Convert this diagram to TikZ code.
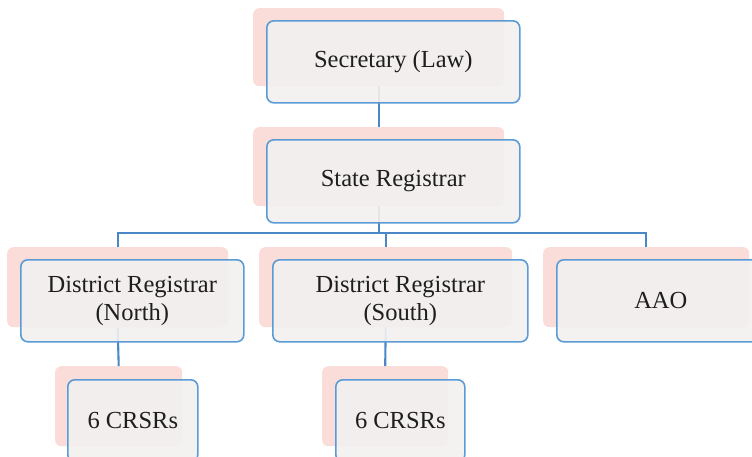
\documentclass[tikz,border=0pt]{standalone}
\usepackage{fontspec}
\setmainfont{Liberation Serif}
\definecolor{pinkfill}{HTML}{FADCD9}
\definecolor{boxfill}{HTML}{F2F1F0}
\definecolor{boxline}{HTML}{5B9BD5}
\definecolor{conline}{HTML}{4A87C6}
\definecolor{txt}{HTML}{1E1E1E}
\tikzset{
  pinkbox/.style={fill=pinkfill, draw=none, rounded corners=6pt, inner sep=0pt, anchor=north west},
  bluebox/.style={fill=boxfill, fill opacity=0.9, text opacity=1, draw=boxline, line width=1.6pt,
    rounded corners=7pt, inner sep=0pt, anchor=north west, align=center, text=txt,
    font=\fontsize{24.5}{28}\selectfont},
  conn/.style={draw=conline, line width=2.1pt}
}
\begin{document}
\begin{tikzpicture}[x=1pt,y=-1pt]
\useasboundingbox (0,0) rectangle (752,456);
\clip (0,0) rectangle (752,456);
% shadows
\node[pinkbox, minimum width=251pt, minimum height=78pt] (pSec) at (253,8) {};
\node[pinkbox, minimum width=251pt, minimum height=79pt] (pState) at (253,127) {};
\node[pinkbox, minimum width=221pt, minimum height=80pt] (pDN) at (7,247) {};
\node[pinkbox, minimum width=253pt, minimum height=80pt] (pDS) at (259,247) {};
\node[pinkbox, minimum width=206pt, minimum height=80pt] (pAAO) at (543,247) {};
\node[pinkbox, minimum width=127pt, minimum height=80pt] (pC1) at (55,366) {};
\node[pinkbox, minimum width=126pt, minimum height=80pt] (pC2) at (322,366) {};
% connectors
\coordinate (bus) at (0,233);
\draw[conn] (pSec.south) -- (pState.north);
\draw[conn] (pState.south) -- (pState.south |- bus);
\draw[conn] (pDN.north) -- (pDN.north |- bus) -| (pAAO.north);
\draw[conn] (pDS.north) -- (pDS.north |- bus);
\draw[conn] (pDN.south) -- (pC1.north);
\draw[conn] (pDS.south) -- (pC2.north);
% boxes
\node[bluebox, minimum width=253pt, minimum height=82pt] (bSec) at (266,20) {\raisebox{-2pt}{Secretary (Law)}};
\node[bluebox, minimum width=253pt, minimum height=83pt] (bState) at (266,139) {\raisebox{-1pt}{State Registrar}};
\node[bluebox, minimum width=223pt, minimum height=82pt] (bDN) at (20,259) {\raisebox{-3pt}{District Registrar}\\\raisebox{-3pt}{(North)}};
\node[bluebox, minimum width=255pt, minimum height=82pt] (bDS) at (272,259) {\raisebox{-3pt}{District Registrar}\\\raisebox{-3pt}{(South)}};
\node[bluebox, minimum width=208pt, minimum height=82pt] (bAAO) at (556,259) {AAO};
\node[bluebox, minimum width=130pt, minimum height=82pt] (bC1) at (67,379) {\raisebox{-2pt}{6 CRSRs}};
\node[bluebox, minimum width=129pt, minimum height=82pt] (bC2) at (335,379) {\raisebox{-2pt}{6 CRSRs}};
\end{tikzpicture}
\end{document}
